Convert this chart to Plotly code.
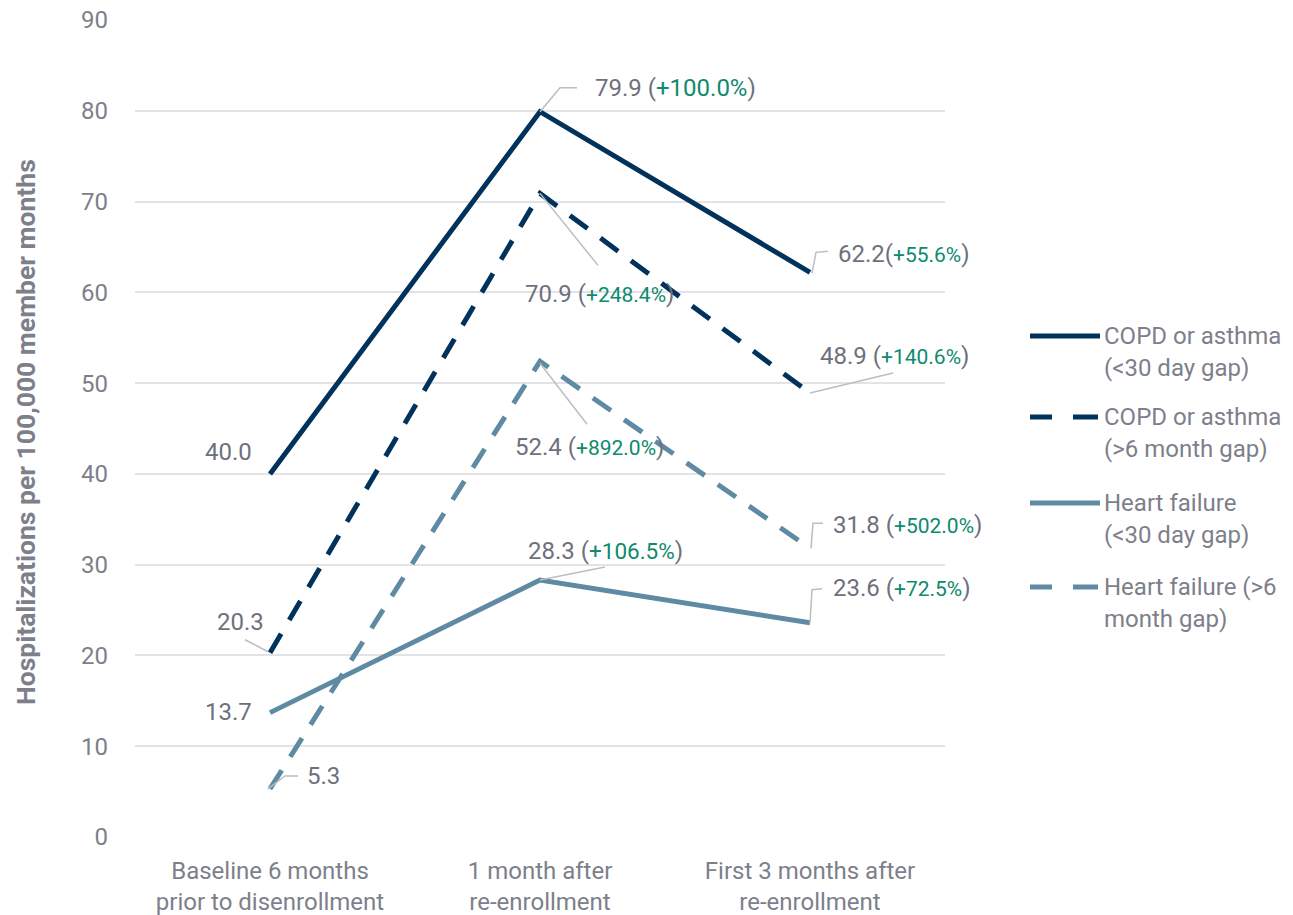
import plotly.graph_objects as go

# ---- data ----
categories = ["Baseline 6 months<br>prior to disenrollment",
              "1 month after<br>re-enrollment",
              "First 3 months after<br>re-enrollment"]
series_names = ["COPD or asthma<br>(&lt;30 day gap)",
                "COPD or asthma<br>(&gt;6 month gap)",
                "Heart failure<br>(&lt;30 day gap)",
                "Heart failure (&gt;6<br>month gap)"]
copd_short = [40.0, 79.9, 62.2]
copd_long = [20.3, 70.9, 48.9]
hf_short = [13.7, 28.3, 23.6]
hf_long = [5.3, 52.4, 31.8]
copd_short_pct = [None, "+100.0%", "+55.6%"]
copd_long_pct = [None, "+248.4%", "+140.6%"]
hf_short_pct = [None, "+106.5%", "+72.5%"]
hf_long_pct = [None, "+892.0%", "+502.0%"]
y_ticks = [0, 10, 20, 30, 40, 50, 60, 70, 80, 90]

# ---- styling ----
NAVY = "#00325B"
STEEL = "#5E8AA4"
GREY_TXT = "#6E707D"
AXIS_TXT = "#7D7F8B"
GREEN = "#0E8A6E"
LEADER = "#BDBDC2"
GRID = "#E2E2E7"
FONT = "Roboto"
TXT = 24
PCT = 21

series = [
    (copd_short, copd_short_pct, NAVY, "solid"),
    (copd_long, copd_long_pct, NAVY, "22px,16px"),
    (hf_short, hf_short_pct, STEEL, "solid"),
    (hf_long, hf_long_pct, STEEL, "22px,16px"),
]

# label placement per series/point:
# (xanchor, xshift, yshift, leader path in px with "up" positive, pct font size, separator)
placements = [
    [("right", -16, 22, None, PCT, " "),
     ("left", 53, 24, "M0,0 L20,24 L37,24", 24, " "),
     ("left", 26, 18, "M2,-1 L6,20 L18,21", PCT, "")],
    [("right", -4, 31, "M-25,13 L-2,1", PCT, " "),
     ("left", -17, -101, "M0,0 L58,-72", PCT, " "),
     ("left", 8, 37, "M0,0 L83,20", PCT, " ")],
    [("right", -16, 1, None, PCT, " "),
     ("left", -14, 29, "M0,0 L65,13", 22.5, " "),
     ("left", 21, 35, "M0,0 L2,33 L12,34", PCT, " ")],
    [("left", 35, 13, "M-2,0 L15,13 L28,13", PCT, " "),
     ("left", -27, -86, "M0,-2 L47,-63", PCT, " "),
     ("left", 21, 23, "M1,0 L3,25 L13,25", PCT, " ")],
]

xs = list(range(len(categories)))
fig = go.Figure()

shapes = []
annotations = []

for (vals, pcts, color, dash), places in zip(series, placements):
    fig.add_trace(go.Scatter(
        x=xs, y=vals, mode="lines",
        line=dict(color=color, width=5, dash=dash),
        showlegend=False, hoverinfo="skip"))
    for i, (v, p, pl) in enumerate(zip(vals, pcts, places)):
        xanchor, xshift, yshift, path, psize, sep = pl
        if p is None:
            txt = f"{v:.1f}"
        else:
            txt = (f"{v:.1f}{sep}(<span style='color:{GREEN};font-size:{psize}px'>{p}</span>)")
        annotations.append(dict(
            x=i, y=v, xref="x", yref="y", text=txt, showarrow=False,
            xanchor=xanchor, yanchor="middle", xshift=xshift, yshift=yshift,
            font=dict(family=FONT, size=TXT, color=GREY_TXT)))
        if path:
            shapes.append(dict(
                type="path", xref="x", yref="y",
                xsizemode="pixel", ysizemode="pixel",
                xanchor=i, yanchor=v, path=path,
                line=dict(color=LEADER, width=1.5), layer="above"))

# ---- legend (drawn beside the plot) ----
W, H = 1293, 915
L, R, T, B = 135, 348, 20, 78
pw, ph = W - L - R, H - T - B


def px_x(px):
    return (px - L) / pw


def px_y(py):
    return (H - B - py) / ph


legend_rows = [336, 417, 503, 587]
for (vals, pcts, color, dash), name, row in zip(series, series_names, legend_rows):
    if dash == "solid":
        segs = [(1030, 1100)]
    else:
        segs = [(1030, 1052), (1073, 1098)]
    for a, b in segs:
        shapes.append(dict(type="line", xref="paper", yref="paper",
                           x0=px_x(a), x1=px_x(b), y0=px_y(row), y1=px_y(row),
                           line=dict(color=color, width=5)))
    for k, line_txt in enumerate(name.split("<br>")):
        annotations.append(dict(
            x=px_x(1102), y=px_y(row + 32 * k), xref="paper", yref="paper",
            text=line_txt, showarrow=False, xanchor="left", yanchor="middle",
            font=dict(family=FONT, size=TXT, color=AXIS_TXT)))

# y-axis title
annotations.append(dict(
    x=px_x(25), y=px_y(432), xref="paper", yref="paper",
    text="<b>Hospitalizations per 100,000 member months</b>",
    textangle=-90, showarrow=False, xanchor="center", yanchor="middle",
    font=dict(family=FONT, size=26.5, color=AXIS_TXT)))

fig.update_layout(
    width=W, height=H,
    margin=dict(l=L, r=R, t=T, b=B, pad=0, autoexpand=False),
    paper_bgcolor="white", plot_bgcolor="white",
    font=dict(family=FONT, size=TXT, color=AXIS_TXT),
    shapes=shapes, annotations=annotations,
    xaxis=dict(range=[-0.5, 2.5], tickmode="array", tickvals=xs,
               ticktext=categories, showgrid=False, zeroline=False,
               showline=False, ticks="", ticklabelstandoff=17,
               automargin=False,
               tickfont=dict(family=FONT, size=TXT, color=AXIS_TXT)),
    yaxis=dict(range=[0, 90], tickmode="array", tickvals=y_ticks,
               showgrid=True, gridcolor=GRID, gridwidth=1.5,
               zeroline=False, showline=False, ticks="",
               ticklabelstandoff=26, automargin=False,
               tickfont=dict(family=FONT, size=TXT, color=AXIS_TXT)),
)

fig.write_html("out.html")
